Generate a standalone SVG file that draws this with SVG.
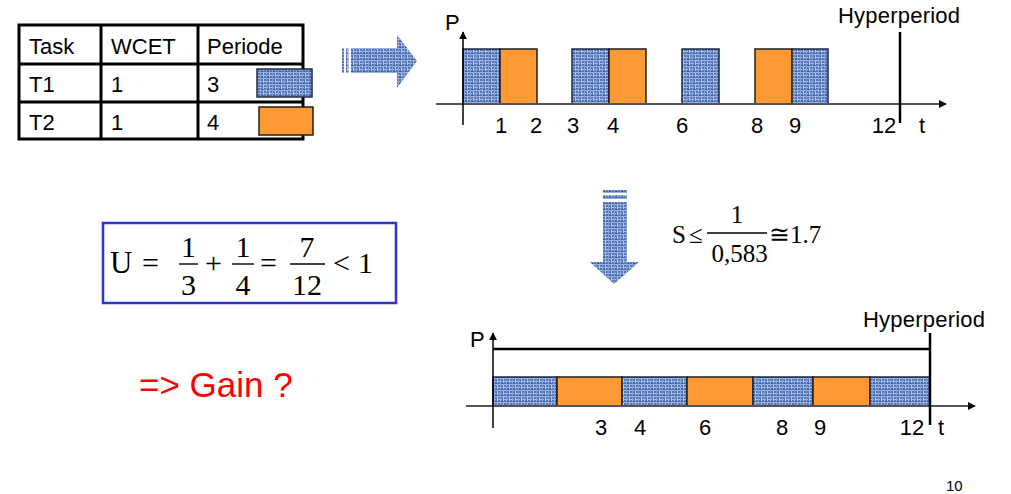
<svg xmlns="http://www.w3.org/2000/svg" width="1011" height="494" viewBox="0 0 1011 494">
<defs>
<pattern id="tex" width="6" height="6" patternUnits="userSpaceOnUse">
<rect width="6" height="6" fill="#5676b6"/>
<rect x="0" y="0" width="6" height="1" fill="#9ab3e0"/>
<rect x="0" y="3" width="4" height="1" fill="#a6bee8"/>
<rect x="2" y="0" width="1" height="6" fill="#86a1d4"/>
<rect x="5" y="1" width="1" height="4" fill="#b2c8ef"/>
<rect x="3" y="5" width="2" height="1" fill="#3c5a96"/>
</pattern>
<marker id="ah" viewBox="0 0 10 10" refX="9" refY="5" markerWidth="8" markerHeight="8" markerUnits="userSpaceOnUse" orient="auto">
<path d="M0,0 L10,5 L0,10 Z" fill="#000"/>
</marker>
</defs>
<style>
.sans{font-family:"Liberation Sans",Arial,sans-serif;fill:#000}
.tbl{font-size:22px}
.num{font-size:22px}
.serif{font-family:"Liberation Serif","Times New Roman",serif;fill:#000}
.blue{fill:url(#tex);stroke:#1e2a40;stroke-width:1.5}
.orange{fill:#ff9933;stroke:#1e1e1e;stroke-width:1.5}
.axis{stroke:#555;stroke-width:2;fill:none}
.vaxis{stroke:#000;stroke-width:1.5;fill:none}
.thick{stroke:#000;stroke-width:2.5;fill:none}
.bar{stroke:#000;stroke-width:1.4}
.mid{text-anchor:middle}
</style>
<rect width="1011" height="494" fill="#fff"/>

<g id="table">
<rect x="19" y="25" width="284" height="114" fill="none" stroke="#000" stroke-width="3"/>
<line x1="19" y1="64" x2="303" y2="64" stroke="#000" stroke-width="3"/>
<line x1="19" y1="102" x2="303" y2="102" stroke="#000" stroke-width="3"/>
<line x1="101" y1="25" x2="101" y2="139" stroke="#000" stroke-width="3"/>
<line x1="198" y1="25" x2="198" y2="139" stroke="#000" stroke-width="3"/>
<text class="sans tbl" x="29" y="54">Task</text>
<text class="sans tbl" x="111" y="54">WCET</text>
<text class="sans tbl" x="207" y="54">Periode</text>
<text class="sans tbl" x="29" y="92">T1</text>
<text class="sans tbl" x="111" y="92">1</text>
<text class="sans tbl" x="207" y="92">3</text>
<text class="sans tbl" x="29" y="130">T2</text>
<text class="sans tbl" x="111" y="130">1</text>
<text class="sans tbl" x="207" y="130">4</text>
<rect class="blue" x="257" y="69" width="55" height="28"/>
<rect class="orange" x="259" y="107" width="54" height="28"/>
</g>

<g id="arrow-right">
<rect x="342" y="48" width="2" height="25" fill="url(#tex)"/>
<rect x="346" y="48" width="2.5" height="25" fill="url(#tex)"/>
<path d="M351,48 H397 V35 L417,61 L397,88 V73 H351 Z" fill="url(#tex)"/>
</g>

<g id="chart-top">
<rect class="blue" x="463" y="49" width="37" height="55"/>
<rect class="orange" x="500" y="49" width="37" height="55"/>
<rect class="blue" x="572" y="49" width="37" height="55"/>
<rect class="orange" x="609" y="49" width="37" height="55"/>
<rect class="blue" x="682" y="49" width="37" height="55"/>
<rect class="orange" x="755" y="49" width="37" height="55"/>
<rect class="blue" x="792" y="49" width="36" height="55"/>
<text class="sans num" x="445" y="30">P</text>
<text class="sans num mid" x="501" y="133">1</text>
<text class="sans num mid" x="536" y="133">2</text>
<text class="sans num mid" x="573" y="133">3</text>
<text class="sans num mid" x="613" y="133">4</text>
<text class="sans num mid" x="682" y="133">6</text>
<text class="sans num mid" x="757" y="133">8</text>
<text class="sans num mid" x="795" y="133">9</text>
<text class="sans num mid" x="884" y="133">12</text>
<text class="sans num" x="919" y="133">t</text>
<text class="sans num" x="838" y="23" textLength="122">Hyperperiod</text>
</g>

<g id="arrow-down">
<rect x="603" y="190" width="24" height="3" fill="url(#tex)"/>
<rect x="603" y="195" width="24" height="4" fill="url(#tex)"/>
<path d="M603,202 H627 V262 H639 L614,284 L590,262 H603 Z" fill="url(#tex)"/>
</g>

<g id="formula-s">
<text class="serif" x="672" y="243" font-size="25">S</text>
<text class="serif" x="689" y="243" font-size="25">≤</text>
<line class="bar" x1="707" y1="233" x2="767" y2="233"/>
<text class="serif mid" x="737" y="223" font-size="25">1</text>
<text class="serif mid" x="739.5" y="262" font-size="25">0,583</text>
<text class="serif" x="769" y="243" font-size="25">≅1.7</text>
</g>

<g id="formula-u">
<rect x="103" y="223" width="293" height="80" fill="none" stroke="#3333cc" stroke-width="2.5"/>
<text class="serif" x="110" y="273" font-size="31">U</text>
<text class="serif" x="142" y="273" font-size="30">=</text>
<line class="bar" x1="179" y1="264" x2="198" y2="264"/>
<text class="serif mid" x="188.5" y="257" font-size="30">1</text>
<text class="serif mid" x="188.5" y="295" font-size="30">3</text>
<text class="serif mid" x="213.5" y="273" font-size="30">+</text>
<line class="bar" x1="232" y1="264" x2="254" y2="264"/>
<text class="serif mid" x="243" y="257" font-size="30">1</text>
<text class="serif mid" x="243" y="295" font-size="30">4</text>
<text class="serif" x="260" y="273" font-size="30">=</text>
<line class="bar" x1="290" y1="264" x2="325" y2="264"/>
<text class="serif mid" x="307" y="257" font-size="30">7</text>
<text class="serif mid" x="307" y="295" font-size="30">12</text>
<text class="serif" x="333" y="273" font-size="30">&lt;</text>
<text class="serif" x="358" y="273" font-size="30">1</text>
</g>

<g id="gain">
<text class="sans" x="139" y="397" font-size="35" style="fill:#ff0000">=&gt; Gain ?</text>
</g>

<g id="chart-bottom">
<rect class="blue" x="493" y="377" width="64" height="29"/>
<rect class="orange" x="557" y="377" width="65" height="29"/>
<rect class="blue" x="622" y="377" width="65" height="29"/>
<rect class="orange" x="687" y="377" width="66" height="29"/>
<rect class="blue" x="753" y="377" width="60" height="29"/>
<rect class="orange" x="813" y="377" width="57" height="29"/>
<rect class="blue" x="870" y="377" width="60" height="29"/>
<text class="sans num" x="470" y="347">P</text>
<text class="sans num mid" x="601" y="435">3</text>
<text class="sans num mid" x="640" y="435">4</text>
<text class="sans num mid" x="705" y="435">6</text>
<text class="sans num mid" x="782" y="435">8</text>
<text class="sans num mid" x="820" y="435">9</text>
<text class="sans num mid" x="912" y="435">12</text>
<text class="sans num" x="938" y="435">t</text>
<text class="sans num" x="863" y="327" textLength="122">Hyperperiod</text>
</g>

<g id="connectors">
<line class="axis" x1="436" y1="104" x2="946" y2="104" marker-end="url(#ah)"/>
<line class="vaxis" x1="463" y1="125" x2="463" y2="32" marker-end="url(#ah)"/>
<line class="thick" x1="900" y1="32" x2="900" y2="123"/>
<line class="axis" x1="466" y1="406" x2="975" y2="406" marker-end="url(#ah)"/>
<line class="vaxis" x1="493" y1="428" x2="493" y2="333" marker-end="url(#ah)"/>
<line class="thick" x1="493" y1="349" x2="930" y2="349"/>
<line class="thick" x1="930" y1="333" x2="930" y2="425"/>
</g>

<text class="sans" x="946" y="491" font-size="15">10</text>
</svg>
